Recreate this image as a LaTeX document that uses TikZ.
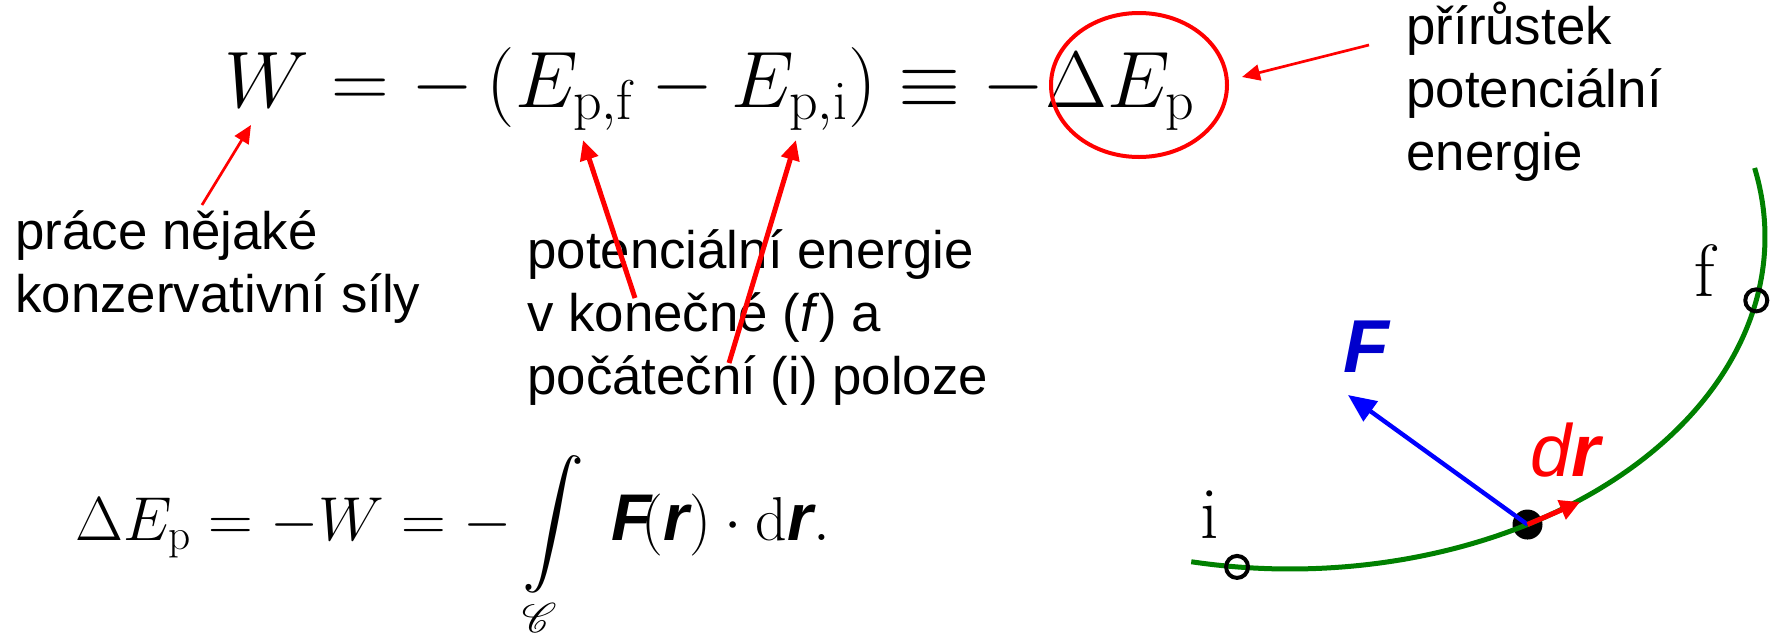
\documentclass[tikz,border=0pt]{standalone}
\usepackage{fix-cm}
\usepackage{amsmath,amssymb}
\usepackage{mathrsfs}
\usepackage{fontspec}
\newfontfamily\arial{Liberation Sans}
\usetikzlibrary{arrows.meta,shapes.geometric}
\definecolor{pgreen}{RGB}{0,128,0}
\definecolor{fblue}{RGB}{0,0,204}
\newcommand{\bvec}[1]{\text{\fontsize{33}{36}\selectfont\arial\bfseries\itshape #1}}
\begin{document}
\begin{tikzpicture}[x=0.5pt,y=-0.5pt,
  anno/.style={font=\arial\fontsize{26.4}{31.5}\selectfont, align=left, anchor=base west, inner sep=0pt},
  thinarr/.style={draw=red, line width=1.35pt, -{Triangle[length=9pt,width=8pt]}},
  thickarr/.style={draw=red, line width=2.5pt, -{Triangle[length=10pt,width=9pt]}},
  ptmark/.style={circle, draw=black, line width=2pt, minimum size=11pt, inner sep=0pt},
  curvelbl/.style={anchor=base west, inner sep=0pt, font=\fontsize{37}{40}\selectfont}
]
\useasboundingbox (0,0) rectangle (1773,638);

% equations
\node[anchor=base west, inner sep=0pt] (eqtop) at (224,107)
  {\fontsize{40}{48}\selectfont$W = -\,(E_{\mathrm{p,f}} - E_{\mathrm{p,i}}) \equiv -\Delta E_{\mathrm{p}}$};
\node[anchor=base west, inner sep=0pt] (eqbot) at (75,540)
  {\fontsize{31}{36}\selectfont$\displaystyle \Delta E_{\mathrm{p}} = -W = -\int\limits_{\mathscr{C}}\; \bvec{F}\!(\bvec{r}) \cdot \mathrm{d}\bvec{r}.$};

% red ellipse
\node[ellipse, draw=red, line width=2pt, minimum width=88pt, minimum height=72pt, inner sep=0pt] (circ) at (1139,85) {};

% annotation texts (anchored at the baseline of their last line)
\node[anno] (tW) at (15,312) {práce nějaké\\konzervativní síly};
\node[anno] (tE) at (527,394) {potenciální energie\\v konečné (\textit{f}) a\\počáteční (i) poloze};
\node[anno] (tD) at (1406,170) {přírůstek\\potenciální\\energie};

% arrow end points
\coordinate (wTail) at (202,205);
\coordinate (wTip) at (251,125);
\coordinate (fTail) at (635,298);
\coordinate (fTip) at (583,140);
\coordinate (iTail) at (729,363);
\coordinate (iTip) at (796,140);
\coordinate (dTail) at (1369,45);
\coordinate (dTip) at (1242,77);

\draw[thinarr] (wTail) -- (wTip);
\draw[thickarr] (fTail) -- (fTip);
\draw[thickarr] (iTail) -- (iTip);
\draw[thinarr] (dTail) -- (dTip);

% path C: part of an ellipse
\node[circle, fill=black, minimum size=15pt, inner sep=0pt] (dot) at ({1290+475*cos(60)},{237+332*sin(60)}) {};
\draw[pgreen, line width=2.5pt] plot[domain=102:-12, samples=80, smooth] ({1290+475*cos(\x)},{237+332*sin(\x)});
\node[ptmark] (pi) at ({1290+475*cos(96.4)},{237+332*sin(96.4)}) {};
\node[ptmark] (pf) at ({1290+475*cos(11)},{237+332*sin(11)}) {};
\node[curvelbl] (li) at (1200,538) {i};
\node[curvelbl] (lf) at (1694,296) {f};

\coordinate (Ftip) at (1348,395);
\coordinate (rtip) at (1580,502);
\draw[blue, line width=2.2pt, -{Triangle[length=14pt,width=12pt]}] (dot.center) -- (Ftip);
\draw[red, line width=2.5pt, -{Triangle[length=10pt,width=10pt]}] (dot.center) -- (rtip);

\node[anchor=base west, inner sep=0pt, text=fblue, font=\arial\bfseries\itshape\fontsize{37.5}{40}\selectfont] (lF) at (1343,372) {F};
\node[anchor=base west, inner sep=0pt, text=red, font=\arial\itshape\fontsize{37}{40}\selectfont] (ldr) at (1530,476) {d\textbf{r}};
\end{tikzpicture}
\end{document}
